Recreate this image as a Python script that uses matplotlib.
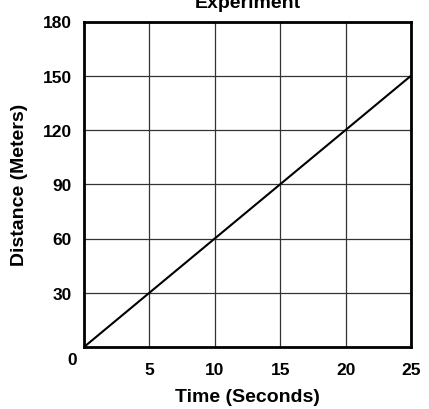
import matplotlib
matplotlib.use("Agg")
import matplotlib.pyplot as plt

time_s = [0, 25]
distance_m = [0, 150]
x_ticks = [5, 10, 15, 20, 25]
y_ticks = [30, 60, 90, 120, 150, 180]

plt.rcParams['font.family'] = ['Liberation Sans', 'DejaVu Sans']
plt.rcParams['font.weight'] = 'bold'

PX = 72 / 100  # points per pixel at dpi 100

fig = plt.figure(figsize=(4.29, 4.10), dpi=100)
ax = fig.add_axes([84/429, 1 - 348/410, (411-84)/429, (348-22.5)/410])

ax.plot(time_s, distance_m, color='black', linewidth=1.5, solid_capstyle='butt')
ax.set_xlim(0, 25)
ax.set_ylim(0, 180)
ax.set_xticks(x_ticks)
ax.set_yticks(y_ticks)
ax.grid(True, color='#333333', linewidth=0.9)
ax.set_axisbelow(True)
ax.tick_params(length=0, labelsize=12.5)
ax.tick_params(axis='y', pad=12 * PX)
ax.tick_params(axis='x', pad=15 * PX)
for lab in ax.get_xticklabels() + ax.get_yticklabels():
    lab.set_fontweight('bold')
for s in ax.spines.values():
    s.set_linewidth(2)
    s.set_color('black')

ax.annotate('0', xy=(0, 0), xytext=(-12 * PX, -13 * PX), textcoords='offset points',
            ha='center', va='center', fontsize=12.5, fontweight='bold')

ax.set_xlabel('Time (Seconds)', fontsize=14, fontweight='bold')
ax.xaxis.label.set_va('center')
ax.xaxis.set_label_coords(0.5, -(398 - 348) / 325.5)
ax.set_ylabel('Distance (Meters)', fontsize=14, fontweight='bold')
ax.yaxis.label.set_va('center')
ax.yaxis.set_label_coords(-(84 - 20) / 327, 0.5)
fig.text(247.5/429, 1 - 8/410, 'Experiment', ha='center', va='baseline',
         fontsize=14, fontweight='bold')

fig.savefig('out.png', dpi=100)
